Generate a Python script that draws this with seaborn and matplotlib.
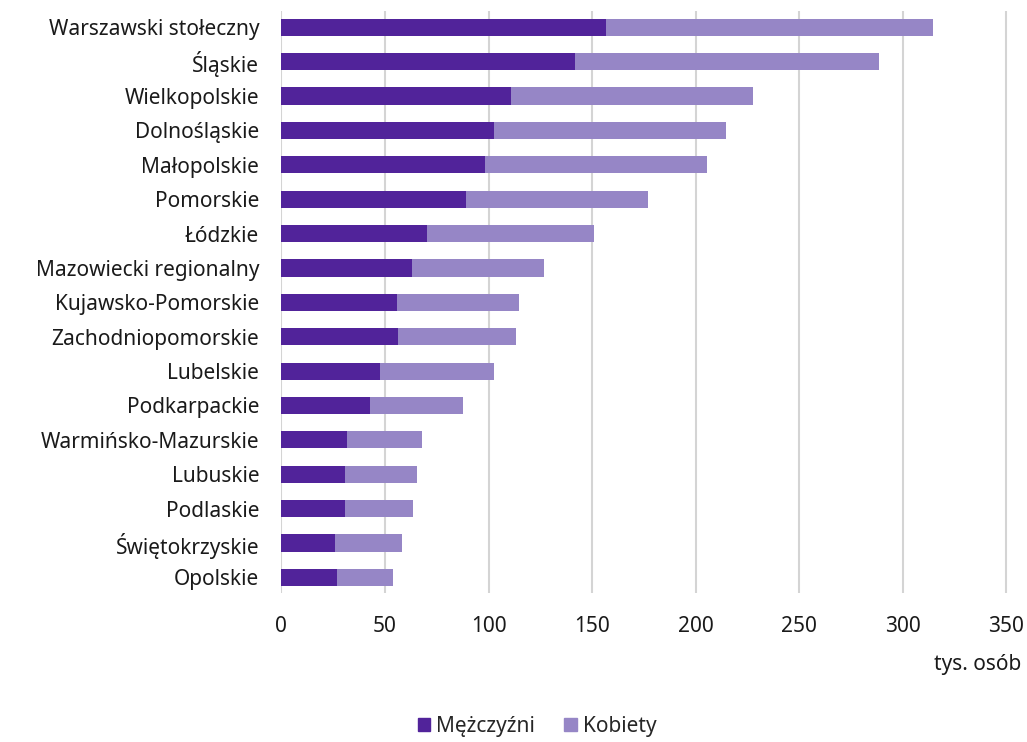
import matplotlib
matplotlib.use("Agg")
import matplotlib.pyplot as plt
import seaborn as sns
import pandas as pd
from matplotlib.patches import Patch

regions = ["Warszawski stołeczny", "Śląskie", "Wielkopolskie", "Dolnośląskie",
           "Małopolskie", "Pomorskie", "Łódzkie", "Mazowiecki regionalny",
           "Kujawsko-Pomorskie", "Zachodniopomorskie", "Lubelskie", "Podkarpackie",
           "Warmińsko-Mazurskie", "Lubuskie", "Podlaskie", "Świętokrzyskie", "Opolskie"]
men = [156.5, 141.6, 110.9, 102.6, 98.5, 89.1, 70.4, 63.2, 55.8, 56.3, 47.7, 42.7,
       31.6, 30.9, 30.9, 26.0, 26.6]
women = [158.2, 146.9, 116.9, 112.2, 107.1, 88.0, 80.6, 63.6, 58.7, 57.0, 55.0, 45.1,
         36.4, 34.5, 32.8, 32.0, 27.1]
xticks = [0, 50, 100, 150, 200, 250, 300, 350]

c_men = "#51239A"
c_women = "#9686C6"

sns.set_theme(style="white")
plt.rcParams["font.family"] = ["Noto Sans", "DejaVu Sans"]

df = pd.DataFrame({"region": regions, "men": men, "women": women})
df["total"] = df["men"] + df["women"]

fig = plt.figure(figsize=(10.27, 7.42), dpi=100)
ax = fig.add_axes([0.274, 0.201, 0.71, 0.784])

sns.barplot(data=df, y="region", x="total", color=c_women, orient="h",
            width=0.5, ax=ax, saturation=1, order=regions, linewidth=0)
sns.barplot(data=df, y="region", x="men", color=c_men, orient="h",
            width=0.5, ax=ax, saturation=1, order=regions, linewidth=0)

ax.set_xlim(0, 352)
ax.set_ylim(len(regions) - 1 + 0.45, -0.47)
ax.set_xticks(xticks)
ax.set_xticklabels([str(t) for t in xticks], fontsize=15, color="#1a1a1a")
ax.tick_params(axis="y", labelsize=15, length=0, pad=16, labelcolor="#1a1a1a")
ax.tick_params(axis="x", length=0, pad=17)
ax.set_xlabel("")
ax.set_ylabel("")
for s in ax.spines.values():
    s.set_visible(False)
ax.grid(axis="x", color="#d4d4d4", linewidth=1.5)
ax.grid(axis="y", visible=False)
ax.set_axisbelow(True)

fig.text(0.994, 0.104, "tys. osób", ha="right", va="center", fontsize=15, color="#1a1a1a")

handles = [Patch(color=c_men, label="Mężczyźni"), Patch(color=c_women, label="Kobiety")]
fig.legend(handles=handles, loc="lower center", bbox_to_anchor=(0.523, -0.018), ncol=2,
           frameon=False, fontsize=15, handlelength=0.6, handleheight=0.6,
           handletextpad=0.3, columnspacing=1.4)

fig.savefig("out.png", dpi=100)
